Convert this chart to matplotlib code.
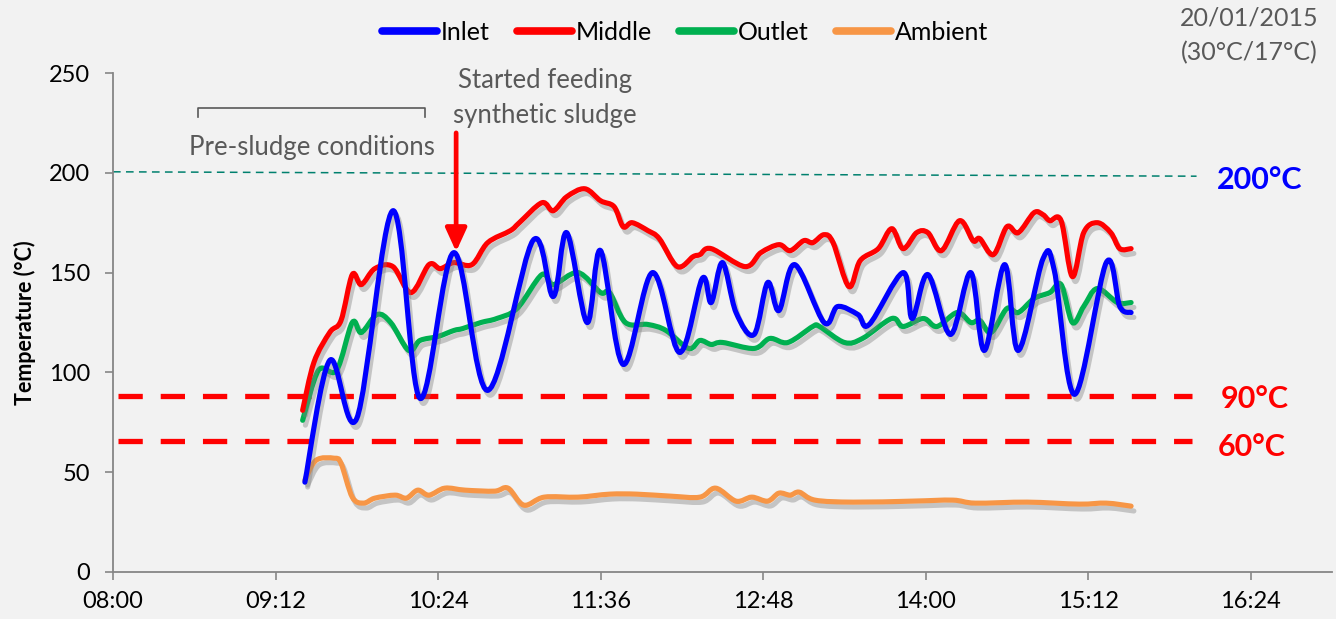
import numpy as np
import pandas as pd
import matplotlib
matplotlib.use('Agg')
import matplotlib.pyplot as plt
from matplotlib.path import Path
from matplotlib.patches import PathPatch
from matplotlib.lines import Line2D
import matplotlib.patheffects as pe

# Températures relevées le 20/01/2015 (lecture sur le graphique)
inlet_t = ["09:25", "09:36", "09:48", "10:04", "10:16", "10:31", "10:46", "11:06", "11:15", "11:21",
           "11:30", "11:36", "11:46", "11:59", "12:11", "12:21", "12:25", "12:30", "12:36", "12:44",
           "12:50", "12:55", "13:02", "13:15", "13:21", "13:30", "13:35", "13:50", "13:54", "14:01",
           "14:11", "14:20", "14:26", "14:35", "14:41", "14:52", "14:57", "15:06", "15:20", "15:26", "15:31"]
inlet_v = [45, 106, 77, 181, 87, 160, 91, 166, 138, 170,
           125, 161, 104, 150, 110, 147, 135, 155, 130, 119,
           145, 131, 154, 125, 133, 129, 124, 150, 127, 149,
           119, 150, 111, 154, 111, 157, 151, 89, 155, 133, 130]

middle_t = ["09:24", "09:29", "09:36", "09:41", "09:46", "09:50", "09:56", "10:04", "10:12", "10:20",
            "10:25", "10:31", "10:39", "10:46", "10:56", "11:00", "11:10", "11:15", "11:21", "11:29",
            "11:36", "11:42", "11:46", "11:50", "11:57", "12:02", "12:10", "12:17", "12:20", "12:25",
            "12:40", "12:47", "12:55", "13:00", "13:06", "13:10", "13:15", "13:19", "13:26", "13:31",
            "13:39", "13:45", "13:50", "13:56", "14:01", "14:07", "14:15", "14:21", "14:24", "14:30",
            "14:36", "14:41", "14:48", "14:52", "14:55", "15:00", "15:05", "15:10", "15:16", "15:22",
            "15:26", "15:31"]
middle_v = [81, 105, 120, 126, 149, 144, 152, 153, 140, 154,
            152, 155, 154, 165, 171, 175, 185, 181, 188, 192,
            186, 183, 173, 175, 171, 167, 153, 158, 159, 162,
            153, 160, 164, 161, 166, 165, 169, 165, 143, 156,
            162, 172, 162, 170, 170, 161, 176, 166, 167, 159,
            173, 170, 180, 179, 176, 176, 148, 170, 175, 170,
            162, 162]

outlet_t = ["09:24", "09:31", "09:39", "09:46", "09:50", "09:57", "10:03", "10:11", "10:16", "10:24",
            "10:31", "10:35", "10:43", "10:50", "10:59", "11:10", "11:15", "11:26", "11:36", "11:40",
            "11:47", "11:57", "12:05", "12:15", "12:20", "12:25", "12:30", "12:44", "12:51", "12:59",
            "13:10", "13:13", "13:24", "13:32", "13:45", "13:50", "13:59", "14:05", "14:14", "14:20",
            "14:24", "14:29", "14:36", "14:41", "14:48", "14:55", "15:00", "15:05", "15:10", "15:16",
            "15:25", "15:31"]
outlet_v = [76, 101, 101, 125, 120, 129, 125, 111, 116, 118,
            121, 122, 125, 127, 132, 149, 144, 150, 140, 140,
            125, 124, 121, 112, 116, 114, 115, 112, 117, 115,
            123, 123, 115, 117, 127, 123, 127, 123, 130, 125,
            126, 120, 132, 130, 137, 140, 144, 125, 133, 142,
            135, 135]

ambient_t = ["09:25", "09:30", "09:38", "09:41", "09:46", "09:51", "09:56", "10:05", "10:10", "10:15",
             "10:20", "10:27", "10:36", "10:49", "10:55", "11:02", "11:11", "11:26", "11:40", "11:52",
             "12:07", "12:20", "12:27", "12:36", "12:43", "12:50", "12:55", "13:00", "13:04", "13:11",
             "13:28", "13:54", "14:12", "14:22", "14:45", "15:08", "15:20", "15:31"]
ambient_v = [46, 56, 57, 54.5, 37.5, 34.5, 37, 38.5, 37, 41,
             38.5, 42, 41, 40.5, 42, 33.5, 37.5, 37.5, 39, 39,
             38, 37.5, 42, 35.5, 37.5, 35.5, 39.5, 38.5, 40, 36,
             35, 35.5, 36, 34.5, 35, 34, 34.5, 33]

noms = ["Inlet", "Middle", "Outlet", "Ambient"]
couleurs = ["#0000FF", "#FF0000", "#00B050", "#F79646"]

# lignes de référence (tracées à la main sur l'original)
limite_200 = [200.5, 198.3]
limites_rouges = [88.2, 65.8]
debut_fin = ["08:00", "16:00"]
debut_fin_rouge = ["08:02", "15:58"]


def minutes(heures):
    t = pd.to_datetime(pd.Series(heures), format="%H:%M")
    return (t.dt.hour * 60 + t.dt.minute).to_numpy(dtype=float)


def courbe_lisse(x, y):
    # courbe de Bézier façon "ligne lissée" d'Excel
    pts = np.column_stack([x, y])
    n = len(pts)
    verts = [pts[0]]
    codes = [Path.MOVETO]
    for i in range(n - 1):
        p0 = pts[max(i - 1, 0)]
        p1 = pts[i]
        p2 = pts[i + 1]
        p3 = pts[min(i + 2, n - 1)]
        verts += [p1 + (p2 - p0) / 6, p2 - (p3 - p1) / 6, p2]
        codes += [Path.CURVE4] * 3
    return Path(verts, codes)


plt.rcParams['font.family'] = ['Lato', 'DejaVu Sans']
fond = "#F2F2F2"
gris = "#595959"

fig = plt.figure(figsize=(13.36, 6.19), dpi=100, facecolor=fond)
ax = fig.add_axes([113 / 1336, 47 / 619, 1219 / 1336, 499 / 619])
ax.set_facecolor(fond)
ax.set_xlim(480, 1020)
ax.set_ylim(0, 250)

ombre = [pe.SimpleLineShadow(offset=(2, -3.5), shadow_color="#808080", alpha=0.4),
         pe.Normal()]

series = [(inlet_t, inlet_v), (middle_t, middle_v), (outlet_t, outlet_v), (ambient_t, ambient_v)]
for (t, v), c in zip(series[::-1], couleurs[::-1]):
    patch = PathPatch(courbe_lisse(minutes(t), np.array(v, dtype=float)), fill=False,
                      edgecolor=c, lw=3.7, capstyle="round", joinstyle="round",
                      path_effects=ombre, zorder=3)
    ax.add_patch(patch)

# ligne 200°C
x200 = minutes(debut_fin)
ax.plot(x200, limite_200, color="#00806E", lw=1.1, dashes=(5, 3.5), zorder=2)
xr = minutes(debut_fin_rouge)
for y in limites_rouges:
    ax.plot(xr, [y, y], color="#FF0000", lw=3.8, dashes=(4.6, 3.4), zorder=2)

ax.text(988, 197.4, "200°C", color="#0000FF", fontsize=22, fontweight="bold",
        ha="center", va="center_baseline")
ax.text(986, 87.7, "90°C", color="#FF0000", fontsize=22, fontweight="bold",
        ha="center", va="center_baseline")
ax.text(984.5, 64.1, "60°C", color="#FF0000", fontsize=22, fontweight="bold",
        ha="center", va="center_baseline")

# crochet "Pre-sludge conditions"
ax.plot([517.7, 517.7, 618.2, 618.2], [228, 232.5, 232.5, 228], color=gris, lw=1.2)
ax.text(568, 213.9, "Pre-sludge conditions", color=gris, fontsize=18.5,
        ha="center", va="center_baseline")
ax.text(671.5, 247.3, "Started feeding", color=gris, fontsize=18.5,
        ha="center", va="center_baseline", clip_on=False)
ax.text(671.5, 230.2, "synthetic sludge", color=gris, fontsize=18.5,
        ha="center", va="center_baseline")
ax.annotate("", xy=(632, 160.5), xytext=(632, 220),
            arrowprops=dict(arrowstyle="-|>,head_length=0.7,head_width=0.32",
                            color="#FF0000", lw=3.4, mutation_scale=20,
                            shrinkA=0, shrinkB=0))

# axes
for s in ["top", "right"]:
    ax.spines[s].set_visible(False)
for s in ["left", "bottom"]:
    ax.spines[s].set_color("#868686")
    ax.spines[s].set_linewidth(1.3)
ax.set_yticks(range(0, 251, 50))
ax.set_xticks(np.arange(480, 1020, 72))
ax.xaxis.set_major_formatter(plt.FuncFormatter(lambda m, p: f"{int(m // 60):02d}:{int(m % 60):02d}"))
ax.tick_params(direction="out", length=5.5, width=1.2, color="#868686", labelsize=17)
ax.tick_params(axis="y", pad=11)
ax.tick_params(axis="x", pad=8)

fig.text(25 / 1336, 1 - 323 / 619, "Temperature (°C)", rotation=90, fontweight="bold",
         fontsize=15.5, ha="center", va="center")

poignees = [Line2D([], [], color=c, lw=5.5, solid_capstyle="round") for c in couleurs]
fig.legend(poignees, noms, loc="center", bbox_to_anchor=(685 / 1336, 1 - 32 / 619), ncol=4,
           frameon=False, fontsize=18, handlelength=2.2, handletextpad=0.15, columnspacing=1.1)

fig.text(1249 / 1336, 1 - 18 / 619, "20/01/2015", color=gris, fontsize=18, ha="center", va="center")
fig.text(1249 / 1336, 1 - 53 / 619, "(30°C/17°C)", color=gris, fontsize=18, ha="center", va="center")

plt.savefig("out.png", dpi=100, facecolor=fond)
